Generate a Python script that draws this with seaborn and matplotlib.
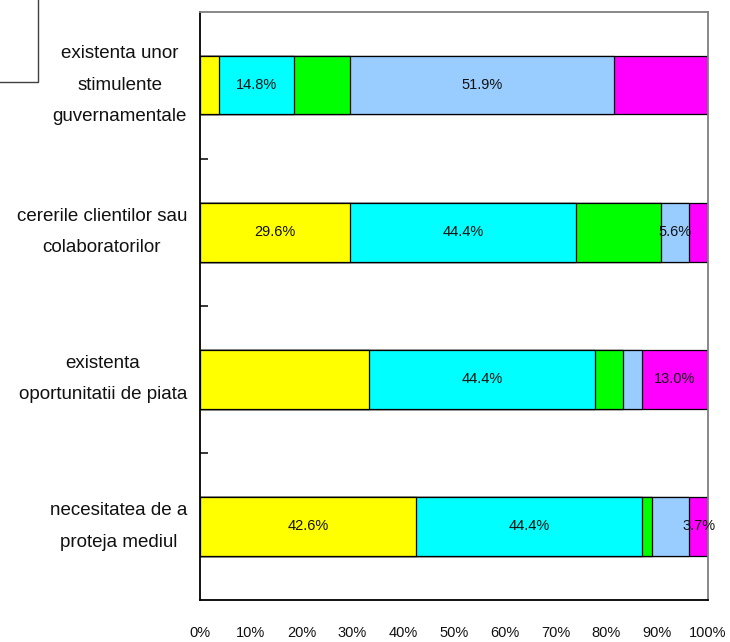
import matplotlib
matplotlib.use("Agg")
import matplotlib.pyplot as plt
import matplotlib.transforms as mtransforms
from matplotlib import font_manager
from matplotlib.patches import Rectangle
from matplotlib.ticker import PercentFormatter, FixedLocator
import numpy as np
import pandas as pd
import seaborn as sns

# ---- data -------------------------------------------------------------
categories = [
    "existenta unor\nstimulente\nguvernamentale",
    "cererile clientilor sau\ncolaboratorilor",
    "existenta\noportunitatii de piata",
    "necesitatea de a\nproteja mediul",
]
series_names = ["s1", "s2", "s3", "s4", "s5"]
s1_yellow = [3.7, 29.6, 33.3, 42.6]
s2_cyan = [14.8, 44.4, 44.4, 44.4]
s3_green = [11.1, 16.7, 5.6, 1.9]
s4_lightblue = [51.9, 5.6, 3.7, 7.4]
s5_magenta = [18.5, 3.7, 13.0, 3.7]
series_colors = ["#FFFF00", "#00FFFF", "#00FF00", "#99CCFF", "#FF00FF"]
# which segments carry a percentage label (rows = categories, cols = series)
labelled = [
    [0, 1, 0, 1, 0],
    [1, 1, 0, 1, 0],
    [0, 1, 0, 0, 1],
    [1, 1, 0, 0, 1],
]
x_ticks = [0, 10, 20, 30, 40, 50, 60, 70, 80, 90, 100]

# ---- fonts ------------------------------------------------------------
sns.set_style("white")
available = {f.name for f in font_manager.fontManager.ttflist}
if "Liberation Sans Narrow" in available:
    family = ["Liberation Sans Narrow", "DejaVu Sans"]
    cat_size, val_size, tick_size, line_sp = 16.5, 12.5, 12.0, 1.7
else:
    family = ["Liberation Sans", "DejaVu Sans"]
    cat_size, val_size, tick_size, line_sp = 13.5, 10.5, 10.5, 2.1
plt.rcParams["font.family"] = family

# ---- table ------------------------------------------------------------
values = np.array([s1_yellow, s2_cyan, s3_green, s4_lightblue, s5_magenta]).T
cum = np.cumsum(values, axis=1)
cum_df = pd.DataFrame(cum, columns=series_names)
cum_df["category"] = categories

# ---- figure -----------------------------------------------------------
W, H = 730, 642
fig = plt.figure(figsize=(W / 100, H / 100), dpi=100)
ax = fig.add_axes([200 / W, 1 - 600 / H, 508 / W, (600 - 11.5) / H])

# stacked bars: draw the cumulative totals from the outermost series inward
for k in range(len(series_names) - 1, -1, -1):
    sns.barplot(
        data=cum_df, x=series_names[k], y="category", orient="h",
        color=series_colors[k], saturation=1, width=0.4,
        edgecolor="black", linewidth=0.9, ax=ax,
    )

# percentage labels in the middle of their segments
for i in range(len(categories)):
    for k in range(len(series_names)):
        if labelled[i][k]:
            v = values[i, k]
            ax.text(cum[i, k] - v / 2, i, f"{v:.1f}%", ha="center",
                    va="center", fontsize=val_size, color="#111111")

# ---- axes styling -----------------------------------------------------
ax.set_xlim(0, 100)
ax.set_ylim(len(categories) - 0.5, -0.5)
ax.set_xlabel("")
ax.set_ylabel("")
ax.set_xticks(x_ticks)
ax.xaxis.set_major_formatter(PercentFormatter(xmax=100, decimals=0))
ax.tick_params(axis="x", direction="out", length=7, width=1.1,
               color="black", pad=12, labelsize=tick_size,
               labelcolor="#111111")

# category names: centred blocks, right-aligned against the axis
ax.set_yticks([])
label_tf = mtransforms.blended_transform_factory(ax.transAxes, ax.transData)
label_tf = label_tf + mtransforms.ScaledTranslation(-13 / 100, 0,
                                                    fig.dpi_scale_trans)
for i, name in enumerate(categories):
    ax.text(0, i, name, transform=label_tf, ha="right", va="center",
            multialignment="center", linespacing=line_sp,
            fontsize=cat_size, color="#111111")

# small inward ticks between the categories
ax.yaxis.set_minor_locator(FixedLocator([0.5, 1.5, 2.5]))
ax.tick_params(axis="y", which="minor", direction="in", length=6,
               width=1.1, color="black", left=True)

for side in ("left", "bottom"):
    ax.spines[side].set_color("black")
    ax.spines[side].set_linewidth(1.3)
for side in ("top", "right"):
    ax.spines[side].set_color("#7f7f7f")
    ax.spines[side].set_linewidth(1.3)
ax.grid(False)

# frame of the legend box peeking in at the top-left corner
fig.add_artist(Rectangle((-20 / W, 1 - 82 / H), 58 / W, 100 / H,
                         transform=fig.transFigure, fill=False,
                         edgecolor="#404040", linewidth=1.0,
                         clip_on=False))

fig.savefig("out.png", dpi=100)
